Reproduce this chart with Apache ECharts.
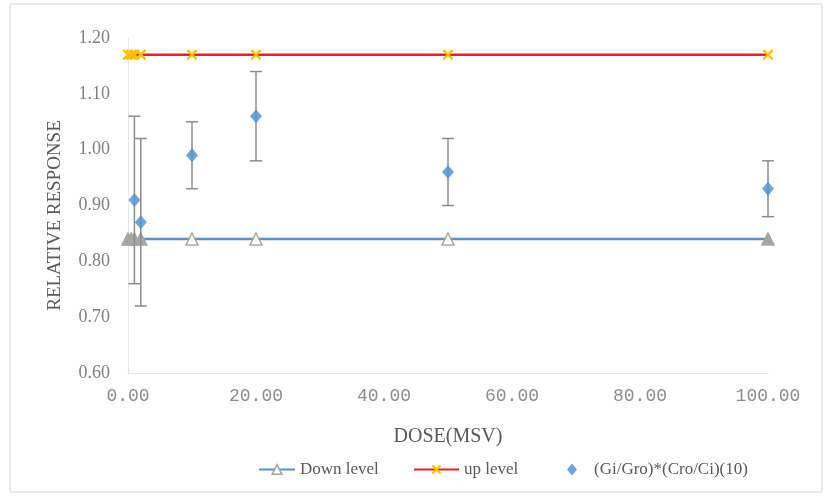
<!DOCTYPE html>
<html>
<head>
<meta charset="utf-8">
<script src="https://cdn.jsdelivr.net/npm/echarts@6/dist/echarts.min.js"></script>
<style>
  html, body { margin: 0; padding: 0; background: #fff; }
  #chart { width: 833px; height: 501px; }
</style>
</head>
<body>
<div id="chart"></div>
<script>
  // dose values (mSv) and responses
  const levelDoses = [0, 0.5, 1, 2, 10, 20, 50, 100];
  const downLevel = [0.84, 0.84, 0.84, 0.84, 0.84, 0.84, 0.84, 0.84];
  const upLevel = [1.17, 1.17, 1.17, 1.17, 1.17, 1.17, 1.17, 1.17];

  const respDoses = [1, 2, 10, 20, 50, 100];
  const response = [0.91, 0.87, 0.99, 1.06, 0.96, 0.93];
  const respErr = [0.15, 0.15, 0.06, 0.08, 0.06, 0.05];

  const serif = '"Liberation Serif", "Times New Roman", serif';
  const grey = '#595959';
  const crossPath = 'path://M0,1.5 L1.5,0 L5,3.5 L8.5,0 L10,1.5 L6.5,5 L10,8.5 L8.5,10 L5,6.5 L1.5,10 L0,8.5 L3.5,5 Z';

  const chart = echarts.init(document.getElementById('chart'));
  chart.setOption({
    animation: false,
    backgroundColor: '#fff',
    graphic: [{
      type: 'rect',
      shape: { x: 10, y: 4, width: 812, height: 488 },
      style: { fill: 'none', stroke: '#d9d9d9', lineWidth: 1 },
      silent: true
    }],
    grid: { left: 128, right: 65, top: 38, bottom: 128 },
    legend: [
      { data: [{ name: 'Down level', itemStyle: { color: '#fff', borderColor: '#a5a5a5', borderWidth: 1.5 } }],
        left: 253, top: 456, itemWidth: 36, itemHeight: 12,
        textStyle: { fontFamily: serif, fontSize: 17, color: grey } },
      { data: ['up level'], left: 408, top: 456, itemWidth: 45, itemHeight: 12,
        textStyle: { fontFamily: serif, fontSize: 17, color: grey } },
      { data: ['(Gi/Gro)*(Cro/Ci)(10)'], left: 562, top: 456, itemWidth: 10, itemHeight: 12,
        textStyle: { fontFamily: serif, fontSize: 17, color: grey, padding: [0, 0, 0, 12] } }
    ],
    xAxis: {
      type: 'value',
      min: 0, max: 100, interval: 20,
      name: 'DOSE(MSV)',
      nameLocation: 'middle',
      nameGap: 54,
      nameTextStyle: { fontFamily: serif, fontSize: 20, color: grey },
      axisLine: { show: true, lineStyle: { color: '#e6e6e6' } },
      axisTick: { show: false },
      splitLine: { show: false },
      axisLabel: {
        margin: 14,
        formatter: v => v.toFixed(2),
        fontFamily: '"Liberation Mono", monospace',
        fontSize: 18,
        color: '#8c8c8c'
      }
    },
    yAxis: {
      type: 'value',
      min: 0.6, max: 1.2, interval: 0.1,
      name: 'RELATIVE RESPONSE',
      nameLocation: 'middle',
      nameGap: 63,
      nameTextStyle: { fontFamily: serif, fontSize: 19, color: grey, padding: [0, 20, 0, 0] },
      axisLine: { show: true, lineStyle: { color: '#e6e6e6' } },
      axisTick: { show: false },
      splitLine: { show: false },
      axisLabel: {
        margin: 18,
        formatter: v => v.toFixed(2),
        fontFamily: serif,
        fontSize: 18,
        color: '#7f7f7f'
      }
    },
    series: [
      {
        name: 'Down level',
        type: 'line',
        data: levelDoses.map((d, i) => [d, downLevel[i]]),
        symbol: 'triangle',
        symbolSize: 12,
        showAllSymbol: true,
        lineStyle: { color: '#5b8fc9', width: 2.5 },
        itemStyle: {
          // the overlapping markers near 0 and at 100 look solid grey
          color: p => (p.value[0] < 5 || p.value[0] === 100) ? '#a5a5a5' : '#fff',
          borderColor: '#a5a5a5',
          borderWidth: 1.5
        },
        z: 2
      },
      {
        name: 'up level',
        type: 'line',
        data: levelDoses.map((d, i) => [d, upLevel[i]]),
        symbol: crossPath,
        symbolSize: 11,
        showAllSymbol: true,
        lineStyle: { color: '#e8202a', width: 2.5 },
        itemStyle: { color: '#ffc000' },
        z: 2
      },
      {
        name: 'errors',
        type: 'custom',
        data: respDoses.map((d, i) => [d, response[i] - respErr[i], response[i] + respErr[i]]),
        renderItem: function (params, api) {
          const lo = api.coord([api.value(0), api.value(1)]);
          const hi = api.coord([api.value(0), api.value(2)]);
          const style = { stroke: '#8c8c8c', lineWidth: 1.5 };
          return {
            type: 'group',
            children: [
              { type: 'line', shape: { x1: lo[0], y1: lo[1], x2: hi[0], y2: hi[1] }, style: style },
              { type: 'line', shape: { x1: lo[0] - 6, y1: lo[1], x2: lo[0] + 6, y2: lo[1] }, style: style },
              { type: 'line', shape: { x1: hi[0] - 6, y1: hi[1], x2: hi[0] + 6, y2: hi[1] }, style: style }
            ]
          };
        },
        z: 3
      },
      {
        name: '(Gi/Gro)*(Cro/Ci)(10)',
        type: 'scatter',
        data: respDoses.map((d, i) => [d, response[i]]),
        symbol: 'diamond',
        symbolSize: [12, 14],
        itemStyle: { color: '#4e8fd0' },
        z: 4
      }
    ]
  });
</script>
</body>
</html>
